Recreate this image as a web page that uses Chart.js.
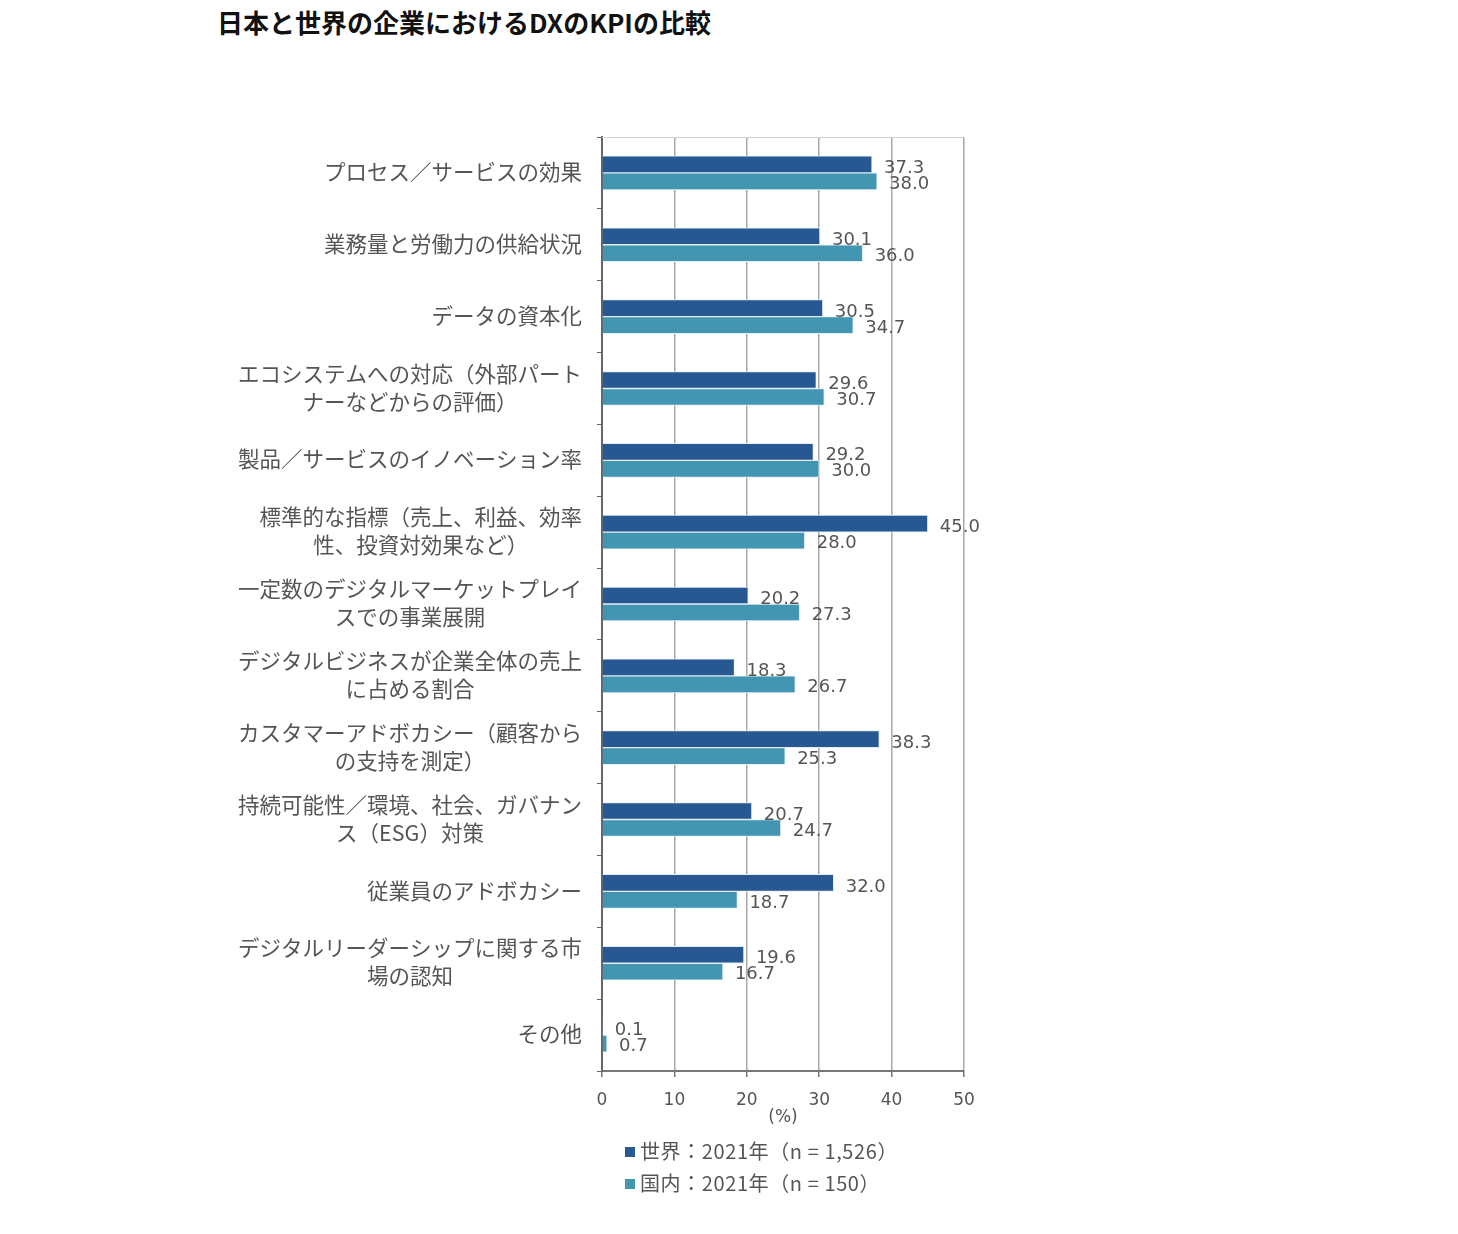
<!DOCTYPE html>
<html>
<head>
<meta charset="utf-8">
<script src="https://cdn.jsdelivr.net/npm/chart.js@4"></script>
<style>
  body { margin: 0; background: #fff; }
  #wrap { position: relative; width: 1458px; height: 1234px; }
  #chart { position: absolute; left: 0; top: 0; }
  .title { position: absolute; left: 217px; top: 3px; font: bold 26px "Noto Sans CJK JP", sans-serif; color: #111; white-space: nowrap; }
  .leg { position: absolute; left: 625px; font: 20px "Noto Sans CJK JP", sans-serif; color: #555; white-space: nowrap; letter-spacing: 0.6px; }
  .leg span { display: inline-block; width: 10px; height: 10px; margin-right: 5px; vertical-align: 2px; }
</style>
</head>
<body>
<div id="wrap">
  <div class="title">日本と世界の企業におけるDXのKPIの比較</div>
  <canvas id="chart" width="1458" height="1234"></canvas>
  <div class="leg" style="top:1136px"><span style="background:#285891"></span>世界：2021年（n = 1,526）</div>
  <div class="leg" style="top:1168px"><span style="background:#4396b2"></span>国内：2021年（n = 150）</div>
</div>
<script>
const categories = [
    ["プロセス／サービスの効果"],
    ["業務量と労働力の供給状況"],
    ["データの資本化"],
    ["エコシステムへの対応（外部パート", "ナーなどからの評価）"],
    ["製品／サービスのイノベーション率"],
    ["標準的な指標（売上、利益、効率", "性、投資対効果など）"],
    ["一定数のデジタルマーケットプレイ", "スでの事業展開"],
    ["デジタルビジネスが企業全体の売上", "に占める割合"],
    ["カスタマーアドボカシー（顧客から", "の支持を測定）"],
    ["持続可能性／環境、社会、ガバナン", "ス（ESG）対策"],
    ["従業員のアドボカシー"],
    ["デジタルリーダーシップに関する市", "場の認知"],
    ["その他"],
];

const world = [37.3, 30.1, 30.5, 29.6, 29.2, 45.0, 20.2, 18.3, 38.3, 20.7, 32.0, 19.6, 0.1];
const domestic = [38.0, 36.0, 34.7, 30.7, 30.0, 28.0, 27.3, 26.7, 25.3, 24.7, 18.7, 16.7, 0.7];

const xTicks = [0, 10, 20, 30, 40, 50];

// labels on the left, block right aligned, lines centered inside
const catLabels = {
    id: 'catLabels',
    afterDraw(chart) {
        const ctx = chart.ctx;
        const y = chart.scales.y;
        ctx.save();
        ctx.font = '21.5px "Noto Sans CJK JP", sans-serif';
        ctx.fillStyle = '#555';
        ctx.textAlign = 'center';
        ctx.textBaseline = 'middle';
        const right = chart.chartArea.left - 20;
        categories.forEach(function (lines, i) {
            const cy = y.getPixelForValue(i) - 1;
            let w = 0;
            lines.forEach(function (l) { w = Math.max(w, ctx.measureText(l).width); });
            const cx = right - w / 2;
            const top = cy - (lines.length - 1) * 14;
            lines.forEach(function (l, k) {
                ctx.fillText(l, cx, top + k * 28);
            });
        });
        // top frame line
        ctx.strokeStyle = '#d0d0d0';
        ctx.lineWidth = 1;
        ctx.beginPath();
        ctx.moveTo(chart.chartArea.left, chart.chartArea.top + 0.5);
        ctx.lineTo(chart.chartArea.right, chart.chartArea.top + 0.5);
        ctx.stroke();
        ctx.restore();
    }
};

const valueLabels = {
    id: 'valueLabels',
    afterDatasetsDraw(chart) {
        const ctx = chart.ctx;
        ctx.save();
        ctx.font = '18px "DejaVu Sans", sans-serif';
        ctx.fillStyle = '#555';
        ctx.textAlign = 'left';
        ctx.textBaseline = 'middle';
        chart.data.datasets.forEach(function (ds, di) {
            const meta = chart.getDatasetMeta(di);
            meta.data.forEach(function (bar, i) {
                ctx.fillText(ds.data[i].toFixed(1), bar.x + 12, bar.y + (di === 0 ? 4 : 3));
            });
        });
        ctx.restore();
    }
};

const data = {
    labels: categories.map(function (c) { return c.join(''); }),
    datasets: [
        {
            label: '世界：2021年（n = 1,526）',
            data: world,
            backgroundColor: '#285891',
            borderColor: '#e4edf3',
            borderWidth: 1,
            barThickness: 17,
        },
        {
            label: '国内：2021年（n = 150）',
            data: domestic,
            backgroundColor: '#4396b2',
            borderColor: '#e4edf3',
            borderWidth: 1,
            barThickness: 17,
        }
    ]
};

const config = {
    type: 'bar',
    data: data,
    options: {
        indexAxis: 'y',
        responsive: false,
        animation: false,
        layout: { padding: { left: 592, right: 494, top: 137, bottom: 106 } },
        plugins: {
            legend: { display: false },
            tooltip: { enabled: false },
        },
        scales: {
            x: {
                min: 0,
                max: 50,
                afterFit: function (s) { s.height = 57; },
                afterBuildTicks: function (s) { s.ticks = xTicks.map(function (v) { return { value: v }; }); },
                ticks: {
                    color: '#555',
                    font: { family: 'DejaVu Sans', size: 17 },
                    padding: 13,
                },
                grid: { color: '#a8a8a8', lineWidth: 1.5, tickLength: 6, tickColor: '#777' },
                border: { color: '#777', width: 2 },
                title: {
                    display: true,
                    text: '(%)',
                    color: '#555',
                    font: { family: 'DejaVu Sans', size: 17 },
                    padding: 0,
                },
            },
            y: {
                afterFit: function (s) { s.width = 10; },
                ticks: { display: false },
                grid: { offset: true, drawOnChartArea: false, tickLength: 5, tickColor: '#666' },
                border: { color: '#666', width: 2 },
            }
        }
    },
    plugins: [catLabels, valueLabels],
};

new Chart(document.getElementById('chart'), config);
</script>
</body>
</html>
